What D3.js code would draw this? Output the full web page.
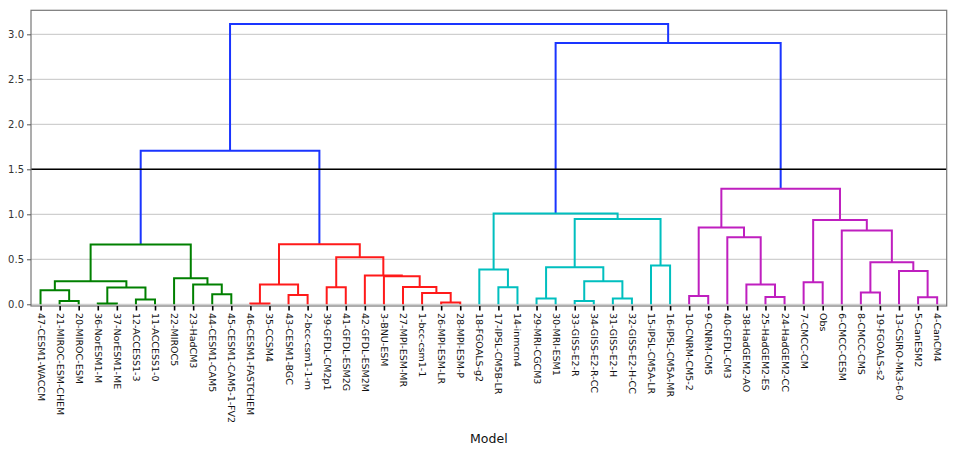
<!DOCTYPE html>
<html>
<head>
<meta charset="utf-8">
<script src="https://cdn.jsdelivr.net/npm/d3@7"></script>
<style>
  body { margin: 0; background: #fff; }
  svg { display: block; font-family: "DejaVu Sans", sans-serif; }
</style>
</head>
<body>
<div class="chart"></div>
<script>
// leaf labels, in dendrogram order
const leafLabels = [
  '47-CESM1-WACCM', '21-MIROC-ESM-CHEM', '20-MIROC-ESM', '36-NorESM1-M', '37-NorESM1-ME',
  '12-ACCESS1-3', '11-ACCESS1-0', '22-MIROC5', '23-HadCM3', '44-CESM1-CAM5',
  '45-CESM1-CAM5-1-FV2', '46-CESM1-FASTCHEM', '35-CCSM4', '43-CESM1-BGC', '2-bcc-csm1-1-m',
  '39-GFDL-CM2p1', '41-GFDL-ESM2G', '42-GFDL-ESM2M', '3-BNU-ESM', '27-MPI-ESM-MR',
  '1-bcc-csm1-1', '26-MPI-ESM-LR', '28-MPI-ESM-P', '18-FGOALS-g2', '17-IPSL-CM5B-LR',
  '14-inmcm4', '29-MRI-CGCM3', '30-MRI-ESM1', '33-GISS-E2-R', '34-GISS-E2-R-CC',
  '31-GISS-E2-H', '32-GISS-E2-H-CC', '15-IPSL-CM5A-LR', '16-IPSL-CM5A-MR', '10-CNRM-CM5-2',
  '9-CNRM-CM5', '40-GFDL-CM3', '38-HadGEM2-AO', '25-HadGEM2-ES', '24-HadGEM2-CC',
  '7-CMCC-CM', 'Obs', '6-CMCC-CESM', '8-CMCC-CMS', '19-FGOALS-s2',
  '13-CSIRO-Mk3-6-0', '5-CanESM2', '4-CanCM4'
];

// linkage rows: [child a, child b, height]; ids < 48 are leaves, merge k gets id 48 + k
const merges = [
  [1, 2, 0.037], [0, 48, 0.156], [3, 4, 0.008], [5, 6, 0.052], [50, 51, 0.186],
  [49, 52, 0.256], [9, 10, 0.111], [8, 54, 0.219], [7, 55, 0.289], [53, 56, 0.665],
  [11, 12, 0.008], [13, 14, 0.104], [58, 59, 0.219], [15, 16, 0.189], [21, 22, 0.019],
  [20, 62, 0.126], [19, 63, 0.193], [18, 64, 0.311], [17, 65, 0.320], [61, 66, 0.523],
  [60, 67, 0.668], [57, 68, 1.705],
  [24, 25, 0.189], [23, 70, 0.386], [26, 27, 0.063], [28, 29, 0.037], [30, 31, 0.063],
  [73, 74, 0.256], [72, 75, 0.412], [32, 33, 0.430], [76, 77, 0.949], [71, 78, 1.009],
  [34, 35, 0.093], [38, 39, 0.082], [37, 81, 0.219], [36, 82, 0.745], [80, 83, 0.853],
  [40, 41, 0.245], [43, 44, 0.130], [46, 47, 0.078], [45, 87, 0.371], [86, 88, 0.467],
  [42, 89, 0.820], [85, 90, 0.938], [84, 91, 1.283], [79, 92, 2.903], [69, 93, 3.114]
];

const yTicks = [0, 0.5, 1.0, 1.5, 2.0, 2.5, 3.0];
const threshold = 1.5;
const clusterColors = ['#008000', '#ff1a1a', '#00bfbf', '#bf1fbf'];
const aboveColor = '#1a35ff';

const width = 957, height = 453;
const margin = { left: 31, right: 10.3, top: 10.3, bottom: 147 };

// build the tree
const nodes = leafLabels.map((name, i) => ({ id: i, name, h: 0, order: i }));
merges.forEach((m, k) => {
  nodes.push({ id: 48 + k, h: m[2], children: [nodes[m[0]], nodes[m[1]]] });
});
const root = d3.hierarchy(nodes[nodes.length - 1]);

const x = d3.scaleLinear()
  .domain([0, leafLabels.length * 10])
  .range([margin.left, width - margin.right]);

const y = d3.scaleLinear()
  .domain([-0.019, 3.267])
  .range([height - margin.bottom, margin.top]);

// x positions: leaves at 5 + 10i, merges at the midpoint of children
root.eachAfter(d => {
  if (!d.children) d.px = x(5 + 10 * d.data.order);
  else d.px = (d.children[0].px + d.children[1].px) / 2;
});

// colours like scipy: each subtree under the threshold gets its own colour
let ci = 0;
root.eachBefore(d => {
  if (!d.children) return;
  if (d.data.h >= threshold) d.color = aboveColor;
  else if (d.parent && d.parent.color === aboveColor) d.color = clusterColors[ci++ % clusterColors.length];
  else d.color = d.parent.color;
});

const svg = d3.select('.chart').append('svg')
  .attr('width', width)
  .attr('height', height);

// grid
svg.append('g')
  .selectAll('line')
  .data(yTicks)
  .join('line')
    .attr('x1', x.range()[0])
    .attr('x2', x.range()[1])
    .attr('y1', d => y(d))
    .attr('y2', d => y(d))
    .attr('stroke', '#c4c4c4')
    .attr('stroke-width', 1);

// dendrogram links
svg.append('g')
  .selectAll('path')
  .data(root.descendants().filter(d => d.children))
  .join('path')
    .attr('fill', 'none')
    .attr('stroke', d => d.color)
    .attr('stroke-width', 2)
    .attr('d', d => {
      const [a, b] = d.children;
      const hy = y(d.data.h);
      return 'M' + a.px + ',' + y(a.data.h) + 'V' + hy + 'H' + b.px + 'V' + y(b.data.h);
    });

// threshold line
svg.append('line')
  .attr('x1', x.range()[0])
  .attr('x2', x.range()[1])
  .attr('y1', y(threshold))
  .attr('y2', y(threshold))
  .attr('stroke', '#000')
  .attr('stroke-width', 1.5);

// frame
svg.append('rect')
  .attr('x', x.range()[0])
  .attr('y', y.range()[1])
  .attr('width', x.range()[1] - x.range()[0])
  .attr('height', y.range()[0] - y.range()[1])
  .attr('fill', 'none')
  .attr('stroke', '#777')
  .attr('stroke-width', 1.2);

// y axis
const yAxis = d3.axisLeft(y)
  .tickValues(yTicks)
  .tickFormat(d3.format('.1f'))
  .tickSize(4)
  .tickPadding(3);

svg.append('g')
  .attr('transform', 'translate(' + x.range()[0] + ',0)')
  .call(yAxis)
  .call(g => g.select('.domain').remove())
  .call(g => g.selectAll('.tick line').attr('stroke', '#555'))
  .call(g => g.selectAll('.tick text').attr('fill', '#333').attr('font-size', 10)
    .attr('font-family', '"DejaVu Sans", sans-serif'));

// leaf ticks and labels
const xAxis = d3.axisBottom(d3.scalePoint().domain(leafLabels)
    .range([x(5), x(5 + 10 * (leafLabels.length - 1))]))
  .tickSize(4.5)
  .tickPadding(0);

const gx = svg.append('g')
  .attr('transform', 'translate(0,' + y.range()[0] + ')')
  .call(xAxis)
  .call(g => g.select('.domain').remove());

gx.selectAll('.tick line').attr('stroke', '#000').attr('stroke-width', 1.6);
gx.selectAll('.tick text')
  .attr('fill', '#111')
  .attr('font-size', 9.5)
  .attr('font-family', '"DejaVu Sans", sans-serif')
  .attr('text-anchor', 'start')
  .attr('dy', null)
  .attr('y', 0)
  .attr('dominant-baseline', 'central')
  .attr('transform', 'translate(0,7) rotate(90)');

// x label
svg.append('text')
  .attr('x', (x.range()[0] + x.range()[1]) / 2)
  .attr('y', 443)
  .attr('text-anchor', 'middle')
  .attr('font-size', 12.5)
  .attr('fill', '#111')
  .text('Model');
</script>
</body>
</html>
